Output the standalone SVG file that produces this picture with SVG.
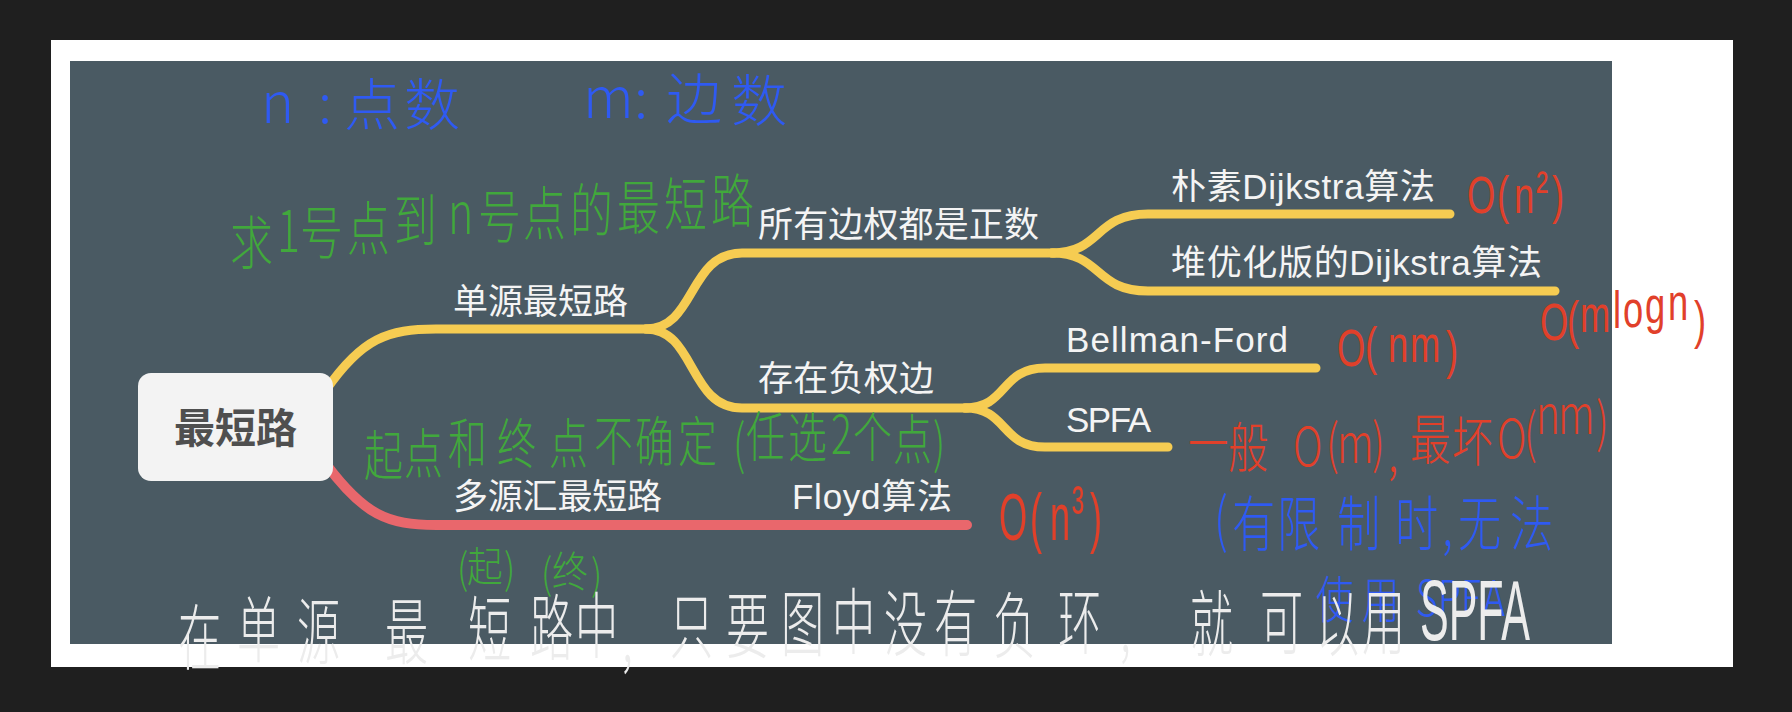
<svg xmlns="http://www.w3.org/2000/svg" width="1792" height="712" viewBox="0 0 1792 712">
  <defs>
    <style>
      .node { font-family: "Liberation Sans", "Noto Sans CJK SC", sans-serif; font-size: 35px; fill: #f4f4f4; }
      .root { font-family: "Noto Sans CJK SC", sans-serif; font-size: 41px; font-weight: bold; fill: #4f4f4f; }
      .yl { fill: none; stroke: #f6cc52; stroke-width: 9; stroke-linecap: round; stroke-linejoin: round; }
      .rd { fill: none; stroke: #e9676c; stroke-width: 10; stroke-linecap: round; stroke-linejoin: round; }
      .hw { font-family: "Noto Sans CJK SC", sans-serif; font-weight: 300; }
      .hl { font-family: "Liberation Sans", "Noto Sans CJK SC", sans-serif; font-weight: normal; }
      .blue { fill: #2f5af2; }
      .green { fill: #41a83c; }
      .red { fill: #e1402a; }
      .white { fill: #ececec; }
    </style>
  </defs>

  <rect x="0" y="0" width="1792" height="712" fill="#1f1f1f"/>
  <rect x="51" y="40" width="1682" height="627" fill="#ffffff"/>
  <rect x="70" y="61" width="1542" height="583" fill="#4a5a63"/>

  <g id="connectors">
    <path class="yl" d="M 326 390 C 362 338 388 329 436 329 L 651 329"/>
    <path class="yl" d="M 646 329 C 696 329 688 253 742 253 L 1054 253"/>
    <path class="yl" d="M 646 329 C 696 329 688 408 742 408 L 967 408"/>
    <path class="yl" d="M 1052 253 C 1102 253 1094 214 1148 214 L 1450 214"/>
    <path class="yl" d="M 1052 253 C 1102 253 1094 291 1148 291 L 1555 291"/>
    <path class="yl" d="M 965 408 C 1008 408 1000 368 1045 368 L 1316 368"/>
    <path class="yl" d="M 965 408 C 1008 408 1000 447 1045 447 L 1168 447"/>
    <path class="rd" d="M 326 464 C 364 515 388 525 436 525 L 967 525"/>
  </g>

  <g id="node-root">
    <rect x="138" y="373" width="195" height="108" rx="13" ry="13" fill="#f3f3f3"/>
    <text class="root" x="235.5" y="443" text-anchor="middle">最短路</text>
  </g>
  <g id="node-single-source">
    <text class="node" x="453" y="314" textLength="175">单源最短路</text>
  </g>
  <g id="node-all-positive">
    <text class="node" x="758" y="237" textLength="281">所有边权都是正数</text>
  </g>
  <g id="node-naive-dijkstra">
    <text class="node" x="1171" y="199" textLength="264">朴素Dijkstra算法</text>
  </g>
  <g id="node-heap-dijkstra">
    <text class="node" x="1171" y="275" textLength="371">堆优化版的Dijkstra算法</text>
  </g>
  <g id="node-negative">
    <text class="node" x="758" y="391" textLength="176">存在负权边</text>
  </g>
  <g id="node-bellman-ford">
    <text class="node" x="1066" y="352" textLength="222">Bellman-Ford</text>
  </g>
  <g id="node-spfa">
    <text class="node" x="1066" y="432" textLength="85">SPFA</text>
  </g>
  <g id="node-multi-source">
    <text class="node" x="453" y="509" textLength="209">多源汇最短路</text>
  </g>
  <g id="node-floyd">
    <text class="node" x="792" y="509" textLength="160">Floyd算法</text>
  </g>

  <g id="annotations">
    <text class="hw blue" font-size="56" x="261 318 344 404" y="123 123 125 125">n:点数</text>
    <text class="hw blue" font-size="56" x="583 634 666 731" y="118 118 119 121">m:边数</text>

    <text class="hw green" font-size="58" transform="scale(0.74 1)" x="310.8 374.3 405.4 468.9 532.4 605.4 645.9 706.8 770.3 833.8 897.3 960.8" y="264 252 254 250 242 234 238 235 232 229 226 222">求1号点到n号点的最短路</text>
    <text class="hw green" font-size="54" transform="scale(0.72 1)" x="505.6 561.1 622.2 690.3 762.5 825 881.9 941.7 1018.1 1036.1 1094.4 1154.2 1184.7 1240.3 1295.8" y="476 474 464 464 464 461 462 462 464 457 458 454 458 460 463">起点和终点不确定(任选2个点)</text>
    <text class="hw green" font-size="42" transform="scale(0.85 1)" x="537.6 549.4 592.9 636.5 649.4 695.3" y="584 582 584 589 587 590">(起)(终)</text>

    <text class="hl red" font-size="52" transform="scale(0.7 1)" x="2095.7 2138.6 2162.9 2194.3 2217.1" y="213 213 213 207 213">O(n²)</text>
    <text class="hl red" font-size="52" transform="scale(0.7 1)" x="2200 2238.6 2257.1 2304.3 2318.6 2350 2382.9 2420" y="340 338 332 328 327 323 320 338">O(mlogn)</text>
    <text class="hl red" font-size="52" transform="scale(0.7 1)" x="1910 1950 1982.9 2014.3 2065.7" y="366 364 362 362 368">O(nm)</text>
    <text class="hl red" font-size="66" transform="scale(0.55 1)" x="1816.4 1872.7 1909.1 1949.1 1981.8" y="540 540 540 532 540">O(n³)</text>
    <text class="hw red" font-size="54" transform="scale(0.75 1)" x="1584 1637.3 1724 1768 1782.7 1829.3 1850.7 1880 1936 1996 2032 2048 2077.3 2128" y="464 468 466 464 463 463 472 460 462 458 453 434 434 442">一般O(m),最坏O(nm)</text>

    <text class="hw blue" font-size="60" transform="scale(0.72 1)" x="1686.1 1711.1 1773.6 1856.9 1937.5 2002.8 2025 2097.2" y="541 546 546 546 546 546 546 546">(有限制时,无法</text>
    <text class="hw blue" font-size="50" transform="scale(0.75 1)" x="1754.7 1816 1888 1917.3 1948 1977.3" y="618 618 616 616 616 616">使用SPFA</text>

    <text class="hw white" font-size="72" transform="scale(0.6 1)" x="296.7 395 495 641.7 780 883.3 958.3 1036.7 1116.7 1210 1301.7 1386.7 1473.3 1556.7 1655 1763.3 1866.7 1983.3 2100 2193.3 2270" y="664 656 658 658 656 654 652 662 652 652 650 648 650 650 652 648 652 650 648 650 648">在单源最短路中,只要图中没有负环,就可以用</text>
    <text class="hl white" font-size="86" transform="translate(1420 640) scale(0.5 1)">SPFA</text>
  </g>
</svg>
